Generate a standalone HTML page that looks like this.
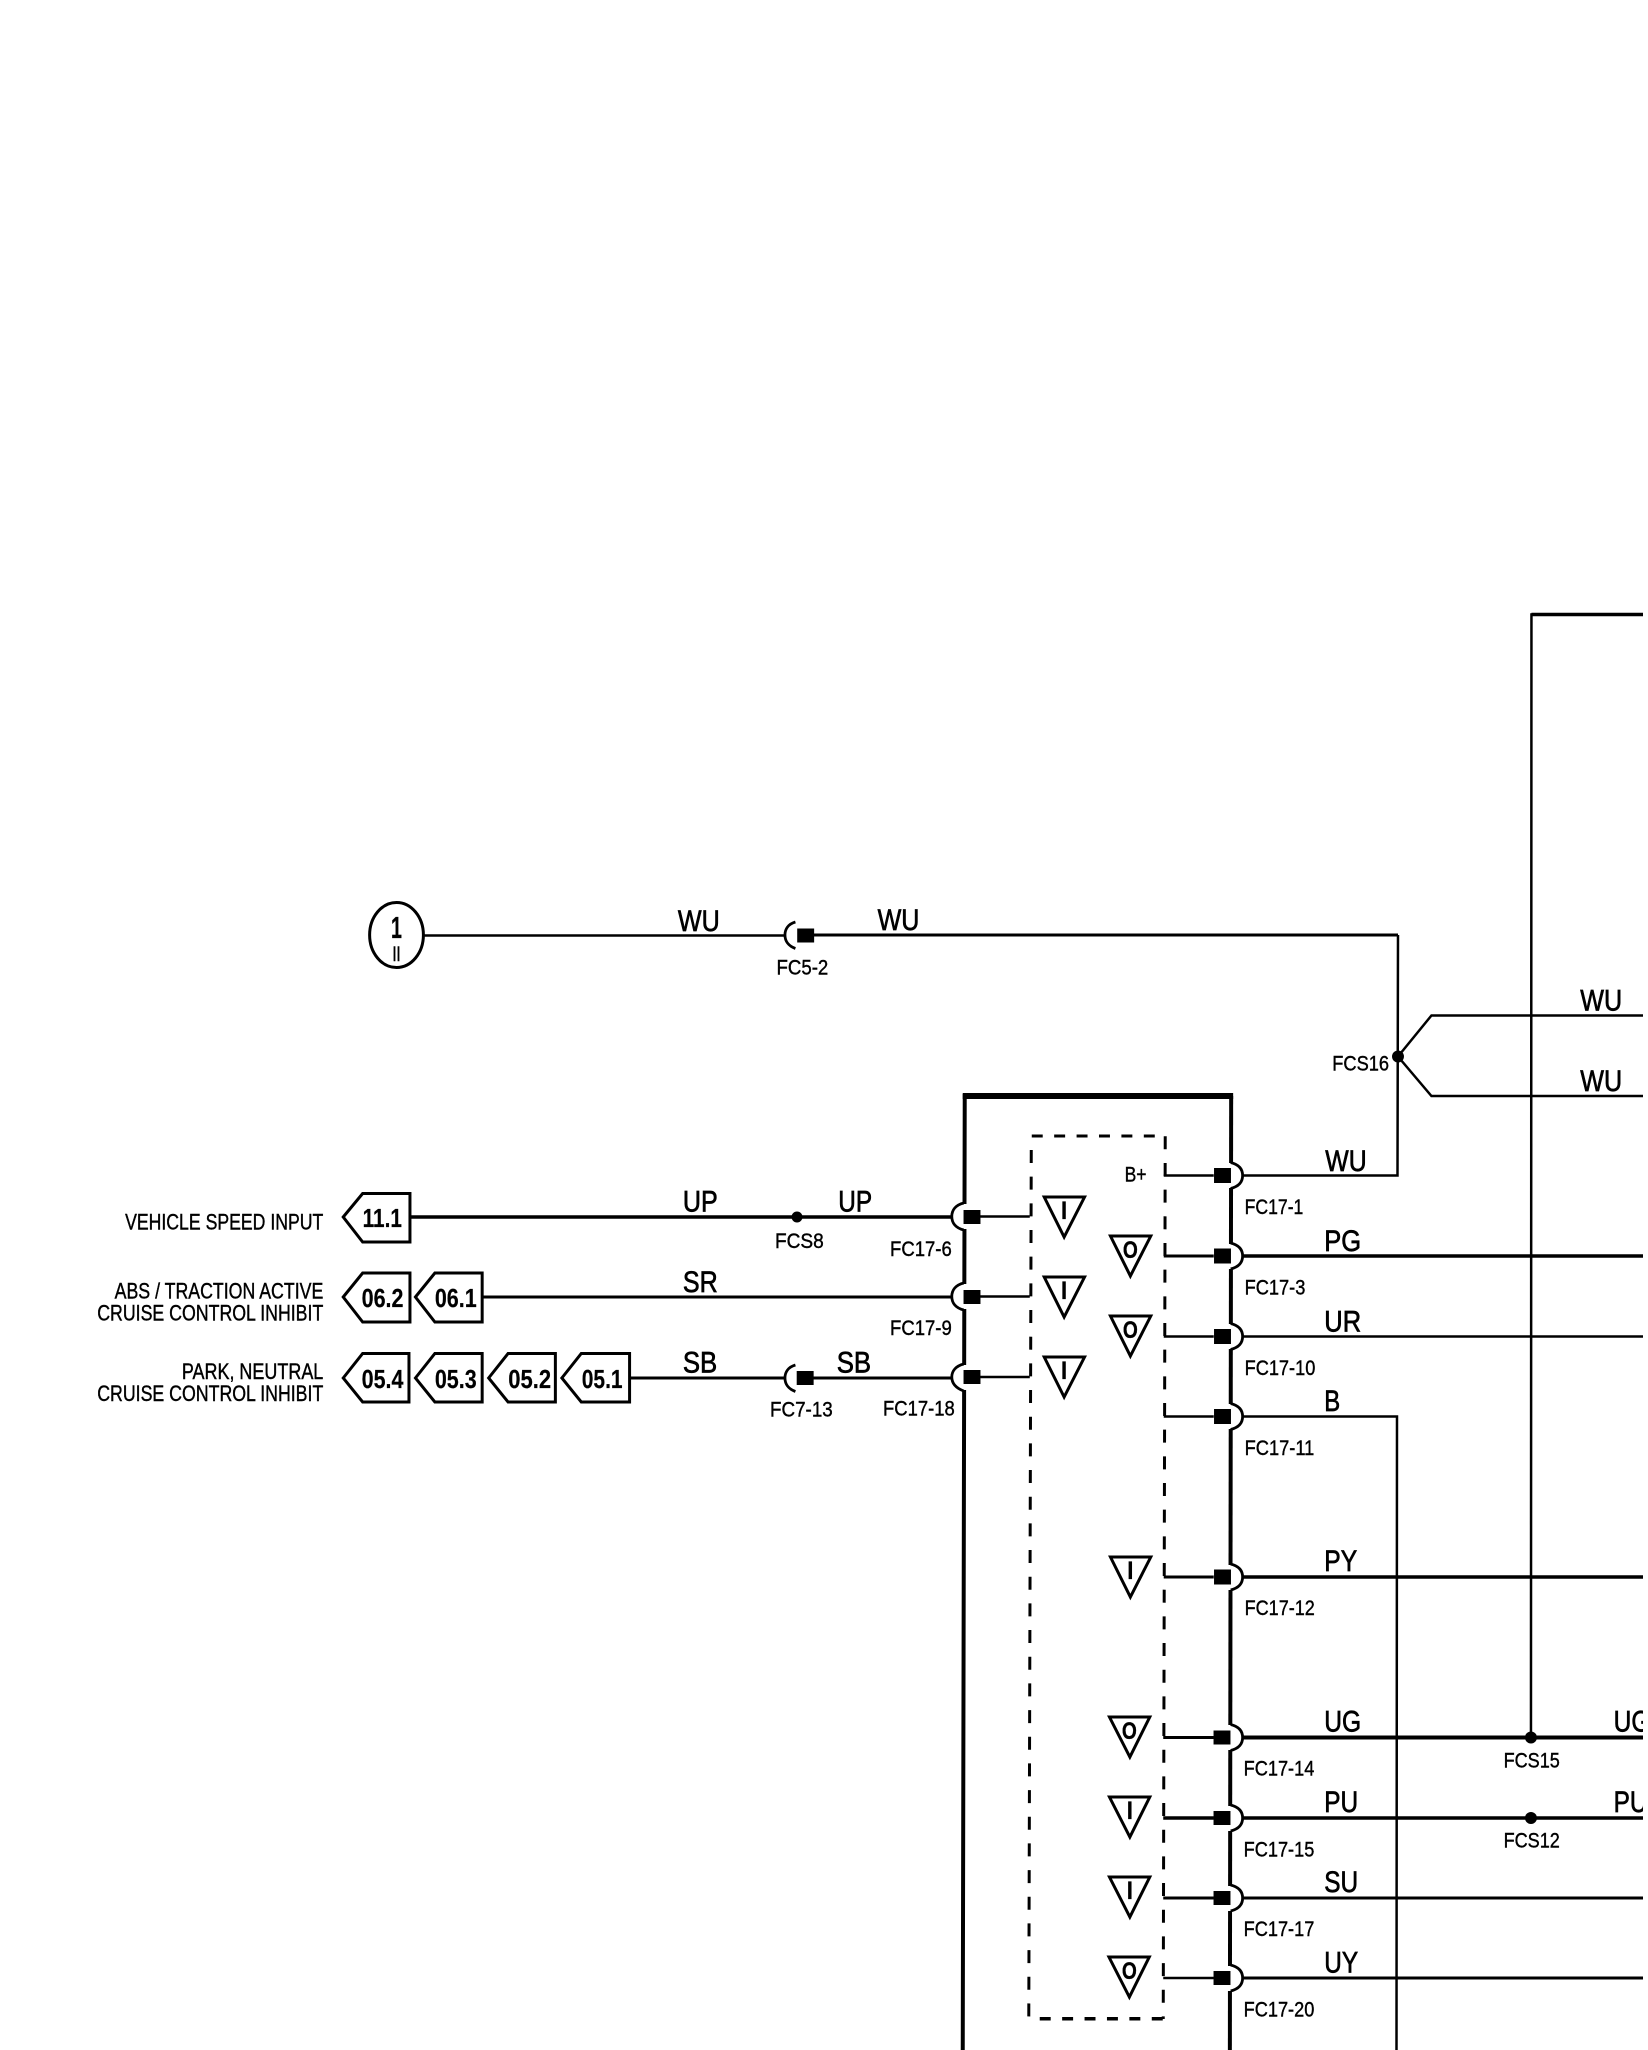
<!DOCTYPE html>
<html lang="en">
<head>
<meta charset="utf-8">
<title>Cruise control wiring diagram</title>
<style>
html,body{margin:0;padding:0;background:#fff}
svg{display:block}
text{font-family:"Liberation Sans",sans-serif;fill:#000;stroke:#000;stroke-width:.35px}
.w{font-size:30px;stroke-width:.7px}
.s{font-size:21px;stroke-width:.4px}
.l{font-size:22px;stroke-width:.4px}
.b{font-size:26px;font-weight:bold;stroke-width:.2px}
.t{font-size:24px;stroke-width:1.2px}
.o{font-size:24px;font-weight:bold}
line,path,polyline{fill:none;stroke:#000}
</style>
</head>
<body>
<svg xmlns="http://www.w3.org/2000/svg" width="1648" height="2050" viewBox="0 0 1648 2050">
<rect width="1648" height="2050" fill="#fff"/>
<g transform="matrix(.996 0 0 1 1.6 0)">

<!-- module box -->
<polyline points="965,2050 967,1096 1234.5,1096" stroke-width="4"/>
<line x1="965" y1="1096" x2="1236.5" y2="1096" stroke-width="6"/>
<line x1="1234.5" y1="1096" x2="1233.2" y2="2050" stroke-width="4"/>

<!-- openings in box outline -->
<g fill="#fff">
<rect x="960" y="1204" width="10" height="25"/>
<rect x="960" y="1284" width="10" height="25"/>
<rect x="960" y="1365" width="10" height="25"/>
<rect x="1229" y="1163" width="9" height="25"/>
<rect x="1229" y="1244" width="9" height="25"/>
<rect x="1229" y="1324" width="9" height="25"/>
<rect x="1229" y="1404" width="9" height="25"/>
<rect x="1229" y="1565" width="9" height="25"/>
<rect x="1229" y="1725" width="9" height="25"/>
<rect x="1229" y="1806" width="9" height="25"/>
<rect x="1229" y="1886" width="9" height="25"/>
<rect x="1229" y="1966" width="9" height="25"/>
</g>

<!-- dashed inner box -->
<line x1="1168.3" y1="1136.3" x2="1166.3" y2="2019" stroke-width="3" stroke-dasharray="13 13.67"/>
<line x1="1033.8" y1="1150" x2="1031.3" y2="2019" stroke-width="3" stroke-dasharray="13 13.67"/>
<line x1="1034.3" y1="1136" x2="1168.3" y2="1136" stroke-width="3" stroke-dasharray="11 11.5"/>
<line x1="1031.3" y1="2018.7" x2="1166.3" y2="2018.7" stroke-width="3.5" stroke-dasharray="11 11.5" stroke-dashoffset="-11"/>

<!-- top / main right wires -->
<polyline points="1648,614.5 1536,614.5 1535.5,1737" stroke-width="2.5"/>
<line x1="1536" y1="614.5" x2="1648" y2="614.5" stroke-width="3.5"/>

<!-- WU feed -->
<line x1="423" y1="935.5" x2="787" y2="935.5" stroke-width="2.5"/>
<line x1="815" y1="935" x2="1402" y2="935" stroke-width="3"/>
<polyline points="1402,935 1401.5,1175.5 1246,1175.5" stroke-width="2.5"/>
<polyline points="1648,1015.5 1435.6,1015.5 1402,1056.5 1435.6,1096 1648,1096" stroke-width="2.5"/>

<!-- left wires -->
<line x1="410" y1="1217" x2="954" y2="1217" stroke-width="3.5"/>
<line x1="482" y1="1297" x2="954" y2="1297" stroke-width="3"/>
<line x1="629" y1="1378" x2="787" y2="1378" stroke-width="3"/>
<line x1="815" y1="1378" x2="954" y2="1378" stroke-width="3"/>
<line x1="982" y1="1216.5" x2="1032.3" y2="1216.5" stroke-width="2.5"/>
<line x1="982" y1="1296.5" x2="1032.3" y2="1296.5" stroke-width="2.5"/>
<line x1="982" y1="1377" x2="1032.3" y2="1377" stroke-width="2.5"/>

<!-- inner right stubs -->
<line x1="1166.8" y1="1175.5" x2="1217" y2="1175.5" stroke-width="2.5"/>
<line x1="1166.8" y1="1256" x2="1217" y2="1256" stroke-width="3"/>
<line x1="1166.8" y1="1336.5" x2="1217" y2="1336.5" stroke-width="2.5"/>
<line x1="1166.8" y1="1416.5" x2="1217" y2="1416.5" stroke-width="2.5"/>
<line x1="1166.8" y1="1577" x2="1217" y2="1577" stroke-width="3"/>
<line x1="1166.3" y1="1737.5" x2="1217" y2="1737.5" stroke-width="3"/>
<line x1="1166.3" y1="1818" x2="1217" y2="1818" stroke-width="3.5"/>
<line x1="1166.3" y1="1898" x2="1217" y2="1898" stroke-width="3"/>
<line x1="1166.3" y1="1978" x2="1217" y2="1978" stroke-width="2.5"/>

<!-- right wires -->
<line x1="1246" y1="1256" x2="1648" y2="1256" stroke-width="3.5"/>
<line x1="1246" y1="1336.5" x2="1648" y2="1336.5" stroke-width="2.5"/>
<polyline points="1246,1416.5 1401,1416.5 1400.5,2050" stroke-width="2.5"/>
<line x1="1246" y1="1577" x2="1648" y2="1577" stroke-width="3.5"/>
<line x1="1246" y1="1737.5" x2="1648" y2="1737.5" stroke-width="4"/>
<line x1="1246" y1="1818" x2="1648" y2="1818" stroke-width="3.5"/>
<line x1="1246" y1="1898" x2="1648" y2="1898" stroke-width="3"/>
<line x1="1246" y1="1978" x2="1648" y2="1978" stroke-width="3"/>

<!-- left-facing bumps -->
<g stroke-width="2.8" transform="translate(1 0)">
<path d="M796 922 C789 924 785.5 929 785.5 935 C785.5 941 789 946 796 948.5"/>
<path d="M796 1365 C789 1367 785.5 1372 785.5 1378 C785.5 1384 789 1389 796 1391.5"/>
<path d="M965 1203 C957 1205 953 1210 953 1216.5 C953 1223 957 1228 965 1230"/>
<path d="M965 1283 C957 1285 953 1290 953 1296.5 C953 1303 957 1308 965 1310"/>
<path d="M965 1364 C957 1366 953 1371 953 1377 C953 1383 957 1388 965 1391"/>
</g>

<!-- right-facing bumps -->
<g stroke-width="2.8" transform="translate(1 0)">
<path d="M1233 1162.5 C1241 1164.5 1245 1169 1245 1175.5 C1245 1182 1241 1186.5 1233 1188.5"/>
<path d="M1233 1243 C1241 1245 1245 1249.5 1245 1256 C1245 1262.5 1241 1267 1233 1269"/>
<path d="M1233 1323.5 C1241 1325.5 1245 1330 1245 1336.5 C1245 1343 1241 1347.5 1233 1349.5"/>
<path d="M1233 1403.5 C1241 1405.5 1245 1410 1245 1416.5 C1245 1423 1241 1427.5 1233 1429.5"/>
<path d="M1233 1564 C1241 1566 1245 1570.5 1245 1577 C1245 1583.5 1241 1588 1233 1590"/>
<path d="M1233 1724.5 C1241 1726.5 1245 1731 1245 1737.5 C1245 1744 1241 1748.5 1233 1750.5"/>
<path d="M1233 1805 C1241 1807 1245 1811.5 1245 1818 C1245 1824.5 1241 1829 1233 1831"/>
<path d="M1233 1885 C1241 1887 1245 1891.5 1245 1898 C1245 1904.5 1241 1909 1233 1911"/>
<path d="M1233 1965 C1241 1967 1245 1971.5 1245 1978 C1245 1984.5 1241 1989 1233 1991"/>
</g>

<!-- connector squares -->
<g fill="#000">
<rect x="798.8" y="928.5" width="17" height="14"/>
<rect x="798.3" y="1371" width="17" height="14"/>
<rect x="965.8" y="1210" width="17" height="14"/>
<rect x="965.8" y="1290" width="17" height="14"/>
<rect x="965.8" y="1370" width="17" height="14"/>
<rect x="1217.3" y="1168" width="17" height="15"/>
<rect x="1217.3" y="1248.5" width="17" height="15"/>
<rect x="1217.3" y="1329" width="17" height="15"/>
<rect x="1217.3" y="1409" width="17" height="15"/>
<rect x="1217.3" y="1569.5" width="17" height="15"/>
<rect x="1216.8" y="1730.5" width="17" height="14"/>
<rect x="1216.8" y="1811" width="17" height="14"/>
<rect x="1216.8" y="1891" width="17" height="14"/>
<rect x="1216.8" y="1971" width="17" height="14"/>
<circle cx="798.6" cy="1217" r="5.5"/>
<circle cx="1402" cy="1056.5" r="6"/>
<circle cx="1535.5" cy="1737.5" r="6"/>
<circle cx="1535.5" cy="1818" r="6"/>
</g>

<!-- fuse circle -->
<ellipse cx="396.5" cy="935" rx="27" ry="32.5" fill="#fff" stroke="#000" stroke-width="3"/>
<text x="391" y="938" font-size="31" font-weight="bold" textLength="11" lengthAdjust="spacingAndGlyphs">1</text>
<text x="392.5" y="961" font-size="21" textLength="8" lengthAdjust="spacingAndGlyphs" style="stroke-width:.6px">II</text>

<!-- page reference pentagons -->
<g fill="#fff" stroke="#000" stroke-width="3" stroke-linejoin="miter">
<polygon points="343,1217 362.5,1193.5 410,1193.5 410,1242 362.5,1242"/>
<polygon points="343,1297 362.5,1273 410,1273 410,1322 362.5,1322"/>
<polygon points="415.5,1297 435,1273 482.5,1273 482.5,1322 435,1322"/>
<polygon points="343,1378 362.5,1353.5 409,1353.5 409,1402 362.5,1402"/>
<polygon points="415.5,1378 435,1353.5 482.5,1353.5 482.5,1402 435,1402"/>
<polygon points="489,1378 508.5,1353.5 556,1353.5 556,1402 508.5,1402"/>
<polygon points="562.5,1378 582,1353.5 630.5,1353.5 630.5,1402 582,1402"/>
</g>
<text class="b" x="362.5" y="1227" textLength="39.5" lengthAdjust="spacingAndGlyphs">11.1</text>
<text class="b" x="361.5" y="1307" textLength="42" lengthAdjust="spacingAndGlyphs">06.2</text>
<text class="b" x="435" y="1307" textLength="42" lengthAdjust="spacingAndGlyphs">06.1</text>
<text class="b" x="361.5" y="1388" textLength="42" lengthAdjust="spacingAndGlyphs">05.4</text>
<text class="b" x="435" y="1388" textLength="42" lengthAdjust="spacingAndGlyphs">05.3</text>
<text class="b" x="508.7" y="1388" textLength="43" lengthAdjust="spacingAndGlyphs">05.2</text>
<text class="b" x="582.5" y="1388" textLength="41" lengthAdjust="spacingAndGlyphs">05.1</text>

<!-- left descriptions -->
<text class="l" x="124" y="1229.5" textLength="199" lengthAdjust="spacingAndGlyphs">VEHICLE SPEED INPUT</text>
<text class="l" x="113.5" y="1298.5" textLength="209.5" lengthAdjust="spacingAndGlyphs">ABS / TRACTION ACTIVE</text>
<text class="l" x="96" y="1320.5" textLength="227" lengthAdjust="spacingAndGlyphs">CRUISE CONTROL INHIBIT</text>
<text class="l" x="181" y="1379" textLength="142" lengthAdjust="spacingAndGlyphs">PARK, NEUTRAL</text>
<text class="l" x="96" y="1401" textLength="227" lengthAdjust="spacingAndGlyphs">CRUISE CONTROL INHIBIT</text>

<!-- triangles -->
<g transform="translate(1.3 0)">
<g fill="#fff" stroke="#000" stroke-width="3" stroke-linejoin="miter">
<polygon points="1045.5,1197 1086,1197 1065.5,1237"/>
<polygon points="1045.5,1277 1086,1277 1065.5,1317"/>
<polygon points="1045.5,1357 1086,1357 1065.5,1397"/>
<polygon points="1112,1236 1152.5,1236 1132,1276"/>
<polygon points="1112,1316 1152.5,1316 1132,1356"/>
<polygon points="1112,1557 1152.5,1557 1132,1597"/>
<polygon points="1111,1717 1151.5,1717 1131.5,1757"/>
<polygon points="1111,1797 1151.5,1797 1131.5,1837"/>
<polygon points="1111,1877 1151.5,1877 1131.5,1917"/>
<polygon points="1110.5,1957 1151,1957 1131,1997"/>
</g>
<g text-anchor="middle">
<text class="t" x="1065.5" y="1218.5">I</text>
<text class="t" x="1065.5" y="1298.5">I</text>
<text class="t" x="1065.5" y="1378.5">I</text>
<text class="o" x="1132" y="1258" textLength="15" lengthAdjust="spacingAndGlyphs">O</text>
<text class="o" x="1132" y="1338" textLength="15" lengthAdjust="spacingAndGlyphs">O</text>
<text class="t" x="1132" y="1578.5">I</text>
<text class="o" x="1131" y="1739" textLength="15" lengthAdjust="spacingAndGlyphs">O</text>
<text class="t" x="1131.5" y="1818.5">I</text>
<text class="t" x="1131.5" y="1898.5">I</text>
<text class="o" x="1131" y="1979" textLength="15" lengthAdjust="spacingAndGlyphs">O</text>
</g>
</g>

<!-- wire labels -->
<text class="w" x="679" y="931" textLength="42" lengthAdjust="spacingAndGlyphs">WU</text>
<text class="w" x="879.5" y="930" textLength="42" lengthAdjust="spacingAndGlyphs">WU</text>
<text class="w" x="1585" y="1010.5" textLength="42" lengthAdjust="spacingAndGlyphs">WU</text>
<text class="w" x="1585" y="1091" textLength="42" lengthAdjust="spacingAndGlyphs">WU</text>
<text class="w" x="1329" y="1171" textLength="41.5" lengthAdjust="spacingAndGlyphs">WU</text>
<text class="w" x="684" y="1211.5" textLength="35" lengthAdjust="spacingAndGlyphs">UP</text>
<text class="w" x="840" y="1211.5" textLength="34" lengthAdjust="spacingAndGlyphs">UP</text>
<text class="w" x="684" y="1292" textLength="35" lengthAdjust="spacingAndGlyphs">SR</text>
<text class="w" x="684" y="1372.5" textLength="34.5" lengthAdjust="spacingAndGlyphs">SB</text>
<text class="w" x="838.5" y="1372.5" textLength="34.5" lengthAdjust="spacingAndGlyphs">SB</text>
<text class="w" x="1328" y="1251" textLength="37" lengthAdjust="spacingAndGlyphs">PG</text>
<text class="w" x="1328" y="1331.5" textLength="37" lengthAdjust="spacingAndGlyphs">UR</text>
<text class="w" x="1328" y="1411" textLength="16" lengthAdjust="spacingAndGlyphs">B</text>
<text class="w" x="1328" y="1571" textLength="33" lengthAdjust="spacingAndGlyphs">PY</text>
<text class="w" x="1328" y="1731.5" textLength="37" lengthAdjust="spacingAndGlyphs">UG</text>
<text class="w" x="1618.5" y="1731.5" textLength="37" lengthAdjust="spacingAndGlyphs">UG</text>
<text class="w" x="1328" y="1812" textLength="34" lengthAdjust="spacingAndGlyphs">PU</text>
<text class="w" x="1618.5" y="1812" textLength="34" lengthAdjust="spacingAndGlyphs">PU</text>
<text class="w" x="1328" y="1892" textLength="34" lengthAdjust="spacingAndGlyphs">SU</text>
<text class="w" x="1328" y="1972.5" textLength="34" lengthAdjust="spacingAndGlyphs">UY</text>

<!-- connector labels -->
<text class="s" x="778" y="974.5" textLength="52" lengthAdjust="spacingAndGlyphs">FC5-2</text>
<text class="s" x="776.5" y="1248" textLength="49" lengthAdjust="spacingAndGlyphs">FCS8</text>
<text class="s" x="771.5" y="1416.5" textLength="63" lengthAdjust="spacingAndGlyphs">FC7-13</text>
<text class="s" x="1336" y="1070.5" textLength="57" lengthAdjust="spacingAndGlyphs">FCS16</text>
<text class="s" x="1127.5" y="1181.5" textLength="22" lengthAdjust="spacingAndGlyphs">B+</text>
<text class="s" x="892" y="1256" textLength="62" lengthAdjust="spacingAndGlyphs">FC17-6</text>
<text class="s" x="892" y="1335" textLength="62" lengthAdjust="spacingAndGlyphs">FC17-9</text>
<text class="s" x="885" y="1415.5" textLength="72" lengthAdjust="spacingAndGlyphs">FC17-18</text>
<text class="s" x="1248" y="1214" textLength="59" lengthAdjust="spacingAndGlyphs">FC17-1</text>
<text class="s" x="1248" y="1294.5" textLength="61" lengthAdjust="spacingAndGlyphs">FC17-3</text>
<text class="s" x="1248" y="1375" textLength="71" lengthAdjust="spacingAndGlyphs">FC17-10</text>
<text class="s" x="1248" y="1455" textLength="70" lengthAdjust="spacingAndGlyphs">FC17-11</text>
<text class="s" x="1248" y="1615" textLength="70.5" lengthAdjust="spacingAndGlyphs">FC17-12</text>
<text class="s" x="1247" y="1775.5" textLength="71" lengthAdjust="spacingAndGlyphs">FC17-14</text>
<text class="s" x="1247" y="1856.5" textLength="71" lengthAdjust="spacingAndGlyphs">FC17-15</text>
<text class="s" x="1247" y="1936" textLength="71" lengthAdjust="spacingAndGlyphs">FC17-17</text>
<text class="s" x="1247" y="2016.5" textLength="71" lengthAdjust="spacingAndGlyphs">FC17-20</text>
<text class="s" x="1508" y="1767.5" textLength="56.5" lengthAdjust="spacingAndGlyphs">FCS15</text>
<text class="s" x="1508" y="1847.5" textLength="56.5" lengthAdjust="spacingAndGlyphs">FCS12</text>
</g>
<rect x="1643" y="0" width="5" height="2050" fill="#fff"/>
</svg>
</body>
</html>
